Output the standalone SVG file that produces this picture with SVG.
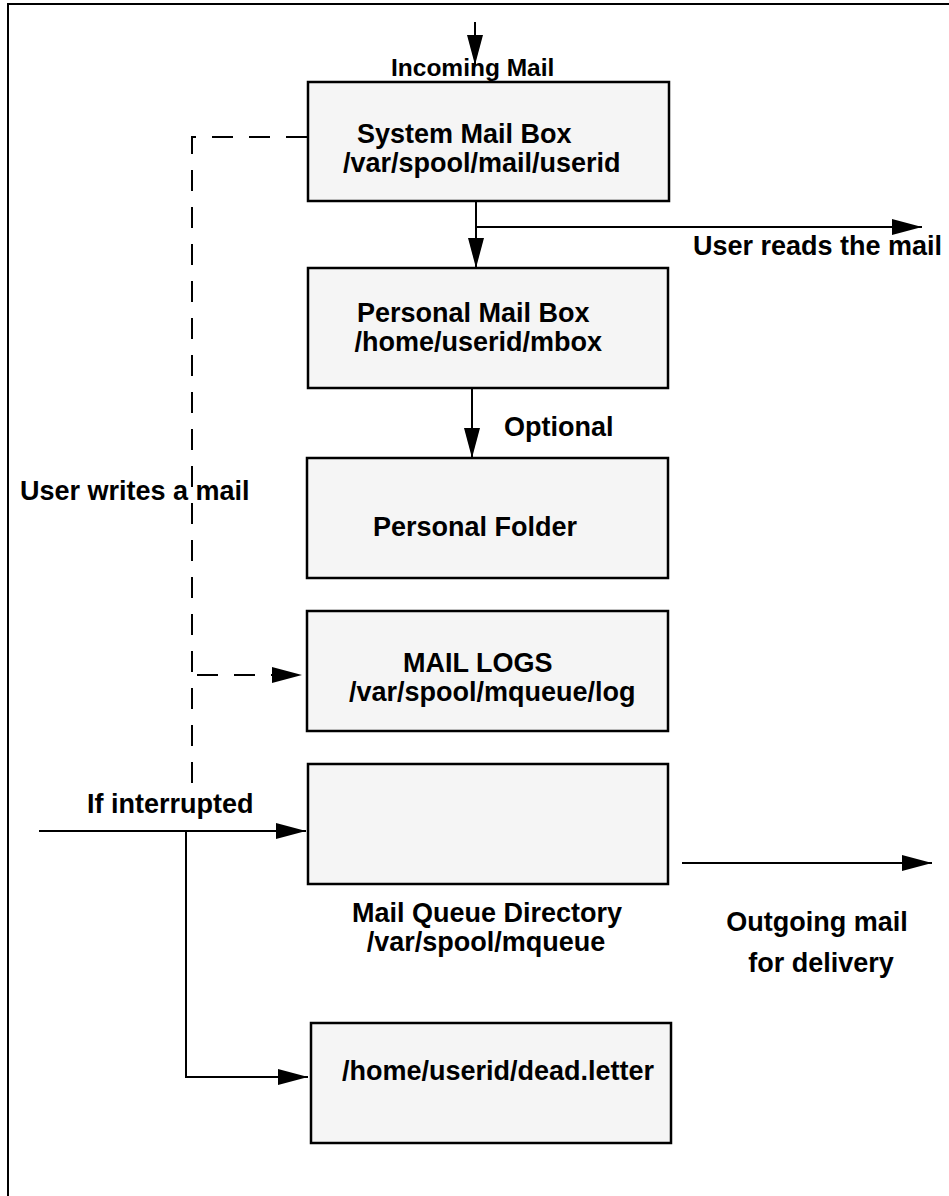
<svg xmlns="http://www.w3.org/2000/svg" width="949" height="1196" viewBox="0 0 949 1196">
  <style>
    .box { fill: #f5f5f5; stroke: #000; stroke-width: 2.5; }
    .ln { fill: none; stroke: #000; stroke-width: 2; }
    .dash { fill: none; stroke: #000; stroke-width: 2; stroke-dasharray: 21 16; }
    text { font-family: "Liberation Sans", Arial, Helvetica, sans-serif; font-weight: bold; font-size: 27px; fill: #000; }
  </style>
  <defs>
    <marker id="ah" markerUnits="userSpaceOnUse" markerWidth="30" markerHeight="16" refX="30" refY="8" orient="auto">
      <path d="M0,0 L30,8 L0,16 z" fill="#000"/>
    </marker>
  </defs>
  <rect x="0" y="0" width="949" height="1196" fill="#fff"/>
  <path class="ln" d="M8,1196 V4 H949"/>

  <g id="connectors">
    <path class="ln" d="M475,22 V65" marker-end="url(#ah)"/>
    <path class="ln" d="M476,201 V268" marker-end="url(#ah)"/>
    <path class="ln" d="M476,227 H922" marker-end="url(#ah)"/>
    <path class="ln" d="M472,388 V458" marker-end="url(#ah)"/>
    <path class="dash" d="M307,137 H192 V794"/>
    <path class="dash" d="M197,675 H302" marker-end="url(#ah)"/>
    <path class="ln" d="M39,831 H306" marker-end="url(#ah)"/>
    <path class="ln" d="M186,831 V1077 H308" marker-end="url(#ah)"/>
    <path class="ln" d="M682,863 H932" marker-end="url(#ah)"/>
  </g>

  <g id="label-incoming"><text x="391" y="76" font-size="24.5" style="font-size:24.5px">Incoming Mail</text></g>

  <g id="system-mailbox">
    <rect class="box" x="308" y="82" width="361" height="119"/>
    <text x="357" y="143">System Mail Box</text>
    <text x="343" y="172">/var/spool/mail/userid</text>
  </g>

  <g id="label-reads"><text x="693" y="255">User reads the mail</text></g>

  <g id="personal-mailbox">
    <rect class="box" x="308" y="268" width="360" height="120"/>
    <text x="357" y="322">Personal Mail Box</text>
    <text x="602" y="351" text-anchor="end">/home/userid/mbox</text>
  </g>

  <g id="label-optional"><text x="504" y="436">Optional</text></g>

  <g id="personal-folder">
    <rect class="box" x="307" y="458" width="361" height="120"/>
    <text x="373" y="536">Personal Folder</text>
  </g>

  <g id="label-writes"><text x="20" y="500">User writes a mail</text></g>

  <g id="mail-logs">
    <rect class="box" x="307" y="611" width="361" height="120"/>
    <text x="403" y="672">MAIL LOGS</text>
    <text x="349" y="701">/var/spool/mqueue/log</text>
  </g>

  <g id="label-interrupted"><text x="87" y="813">If interrupted</text></g>

  <g id="mail-queue">
    <rect class="box" x="308" y="764" width="360" height="120"/>
    <text x="487" y="922" text-anchor="middle">Mail Queue Directory</text>
    <text x="486" y="951" text-anchor="middle">/var/spool/mqueue</text>
  </g>

  <g id="label-outgoing">
    <text x="817" y="931" text-anchor="middle">Outgoing mail</text>
    <text x="821" y="972" text-anchor="middle">for delivery</text>
  </g>

  <g id="dead-letter">
    <rect class="box" x="311" y="1023" width="360" height="120"/>
    <text x="342" y="1080">/home/userid/dead.letter</text>
  </g>
</svg>
